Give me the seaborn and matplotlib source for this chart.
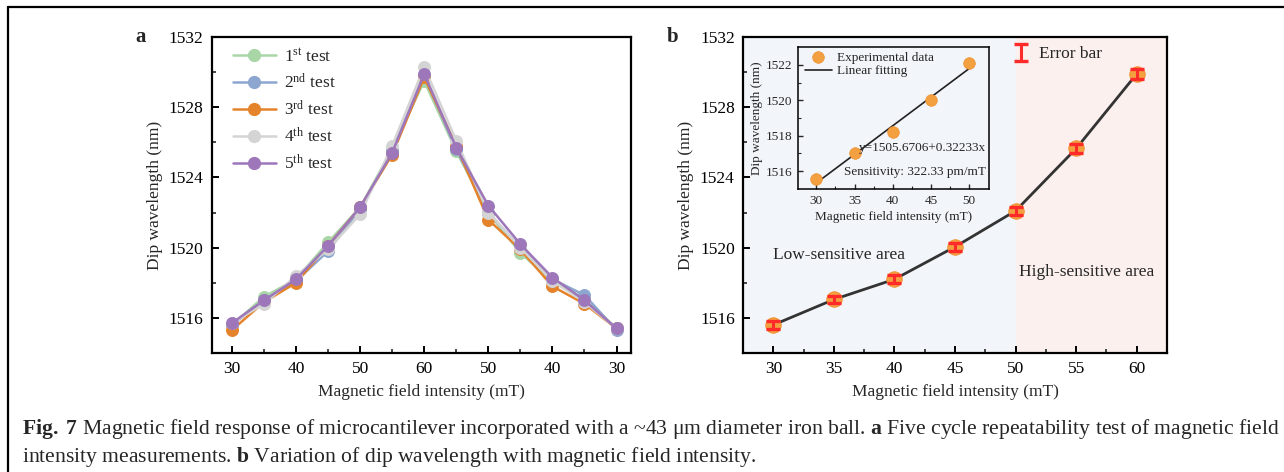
import numpy as np
import pandas as pd
import matplotlib
matplotlib.use("Agg")
import matplotlib.pyplot as plt
from matplotlib.lines import Line2D
import seaborn as sns

# ---- data -------------------------------------------------------------
cycle_fields = [30, 35, 40, 45, 50, 55, 60, 55, 50, 45, 40, 35, 30]
test_names = ["1$^{\\mathrm{st}}$ test", "2$^{\\mathrm{nd}}$ test", "3$^{\\mathrm{rd}}$ test",
              "4$^{\\mathrm{th}}$ test", "5$^{\\mathrm{th}}$ test"]
test1 = [1515.6, 1517.2, 1518.2, 1520.3, 1522.3, 1525.6, 1529.5, 1525.5, 1522.0, 1519.7, 1518.1, 1517.1, 1515.4]
test2 = [1515.6, 1517.0, 1518.1, 1519.8, 1522.2, 1525.5, 1529.8, 1525.6, 1522.0, 1520.0, 1518.2, 1517.3, 1515.3]
test3 = [1515.3, 1516.9, 1518.0, 1520.1, 1522.3, 1525.3, 1529.7, 1525.8, 1521.6, 1519.9, 1517.8, 1516.8, 1515.4]
test4 = [1515.7, 1516.8, 1518.4, 1519.9, 1521.9, 1525.8, 1530.3, 1526.1, 1522.0, 1520.0, 1518.1, 1516.9, 1515.4]
test5 = [1515.7, 1517.0, 1518.2, 1520.1, 1522.3, 1525.4, 1529.9, 1525.7, 1522.4, 1520.2, 1518.3, 1517.0, 1515.4]
test_colors = ["#A9D6A6", "#8CA6D0", "#E5832B", "#D4D4D4", "#9D77BA"]

field = [30, 35, 40, 45, 50, 55, 60]
dip = [1515.6, 1517.05, 1518.2, 1520.05, 1522.1, 1525.65, 1529.9]
dip_err = [0.22, 0.22, 0.22, 0.22, 0.22, 0.27, 0.27]

fit_field = [30, 35, 40, 45, 50]
fit_dip = [1515.55, 1517.0, 1518.2, 1520.0, 1522.1]
fit_intercept = 1505.6706
fit_slope = 0.32233

caption_1 = (r"$\mathbf{Fig.}$ $\mathbf{7}$ Magnetic field response of microcantilever incorporated with a ~43 μm "
             r"diameter iron ball. $\mathbf{a}$ Five cycle repeatability test of magnetic field")
caption_2 = r"intensity measurements. $\mathbf{b}$ Variation of dip wavelength with magnetic field intensity."

# ---- style ------------------------------------------------------------
sns.set_theme(style="ticks")
plt.rcParams["font.family"] = ["Liberation Serif", "DejaVu Serif"]
plt.rcParams["mathtext.fontset"] = "custom"
plt.rcParams["mathtext.rm"] = "Liberation Serif"
plt.rcParams["mathtext.it"] = "Liberation Serif:italic"
plt.rcParams["mathtext.bf"] = "Liberation Serif:bold"
plt.rcParams["axes.linewidth"] = 1.6
plt.rcParams["axes.edgecolor"] = "black"

FS = 12.5
fig = plt.figure(figsize=(12.84, 4.72), dpi=100)

# outer frame of the figure block
fig.add_artist(Line2D([0.0063, 0.0063], [0, 0.985], transform=fig.transFigure, color="black", lw=1.6))
fig.add_artist(Line2D([0.0063, 1.0], [0.985, 0.985], transform=fig.transFigure, color="black", lw=1.6))


def style_ticks(ax, size):
    ax.tick_params(axis="both", which="major", direction="in", length=5, width=1.4,
                   labelsize=size, colors="black", pad=6)
    ax.tick_params(axis="both", which="minor", direction="in", length=3, width=1.2)
    for s in ax.spines.values():
        s.set_visible(True)
        s.set_color("black")


# ---- panel a: five cycle repeatability ---------------------------------
ax_a = fig.add_axes([0.1651, 0.2521, 0.3263, 0.6695])
rows = []
for name, vals in zip(test_names, [test1, test2, test3, test4, test5]):
    for i, v in enumerate(vals):
        rows.append({"step": i, "dip": v, "test": name})
df_a = pd.DataFrame(rows)
sns.lineplot(data=df_a, x="step", y="dip", hue="test", palette=test_colors,
             marker="o", markersize=8.5, markeredgewidth=0.8, linewidth=1.8,
             dashes=False, ax=ax_a, legend=False)
for line, c in zip(ax_a.get_lines(), test_colors):
    line.set_markeredgecolor(c)
ax_a.set_xlim(-0.62, 12.45)
ax_a.set_ylim(1514, 1532)
ax_a.set_xticks(range(0, 13, 2))
ax_a.set_xticklabels([str(cycle_fields[i]) for i in range(0, 13, 2)])
ax_a.set_xticks(range(1, 13, 2), minor=True)
ax_a.set_yticks([1516, 1520, 1524, 1528, 1532])
ax_a.set_yticks([1518, 1522, 1526, 1530], minor=True)
ax_a.set_xlabel("Magnetic field intensity (mT)", fontsize=FS, labelpad=5)
ax_a.set_ylabel("Dip wavelength (nm)", fontsize=FS, labelpad=4)
style_ticks(ax_a, FS)
handles_a = [Line2D([], [], color=c, marker="o", markersize=8.5, lw=1.8,
                    markeredgecolor=c) for c in test_colors]
ax_a.legend(handles_a, test_names, loc="upper left", frameon=False, fontsize=FS,
            handlelength=2.5, labelspacing=0.45, borderaxespad=0.3, handletextpad=0.45,
            bbox_to_anchor=(0.02, 1.005))
fig.text(0.1095, 0.921, "a", fontsize=15, fontweight="bold", ha="center", va="center")

# ---- panel b: dip wavelength vs field ----------------------------------
ax_b = fig.add_axes([0.5787, 0.2521, 0.3302, 0.6695])
ax_b.axvspan(27.5, 50, color="#F2F5F9", zorder=0, lw=0)
ax_b.axvspan(50, 62.5, color="#FBF0EE", zorder=0, lw=0)
df_b = pd.DataFrame({"field": field, "dip": dip})
sns.lineplot(data=df_b, x="field", y="dip", color="#333333", linewidth=2.0, ax=ax_b, zorder=2)
sns.scatterplot(data=df_b, x="field", y="dip", color="#F3A040", s=125, edgecolor="#F09030",
                linewidth=0.6, ax=ax_b, zorder=3)
err = ax_b.errorbar(field, dip, yerr=dip_err, fmt="none", ecolor="#FF2A2A", elinewidth=2.2,
                    capsize=4.8, capthick=2.4, zorder=4, label="Error bar")
ax_b.set_xlim(27.5, 62.5)
ax_b.set_ylim(1514, 1532)
ax_b.set_xticks(field)
ax_b.set_xticks([32.5, 37.5, 42.5, 47.5, 52.5, 57.5], minor=True)
ax_b.set_yticks([1516, 1520, 1524, 1528, 1532])
ax_b.set_yticks([1518, 1522, 1526, 1530], minor=True)
ax_b.set_xlabel("Magnetic field intensity (mT)", fontsize=FS, labelpad=5)
ax_b.set_ylabel("Dip wavelength (nm)", fontsize=FS, labelpad=4)
style_ticks(ax_b, FS)
ax_b.legend([err], ["Error bar"], loc="upper left", bbox_to_anchor=(0.6, 1.02), frameon=False,
            fontsize=FS, handlelength=0.9, handletextpad=0.6)
ax_b.text(30.0, 1519.6, "Low-sensitive area", fontsize=FS, ha="left", va="center")
ax_b.text(50.3, 1518.6, "High-sensitive area", fontsize=FS, ha="left", va="center")
fig.text(0.5235, 0.921, "b", fontsize=15, fontweight="bold", ha="center", va="center")

# ---- inset: linear fit over the low-sensitive range --------------------
ax_in = fig.add_axes([0.6215, 0.5996, 0.1488, 0.3008])
ax_in.patch.set_alpha(0)
fit_x = np.array([fit_field[0], fit_field[-1]])
sns.lineplot(x=fit_x, y=fit_intercept + fit_slope * fit_x, color="#222222", linewidth=1.2,
             ax=ax_in, label="Linear fitting")
sns.scatterplot(x=fit_field, y=fit_dip, color="#F3A040", s=70, edgecolor="#F09030",
                linewidth=0.5, ax=ax_in, label="Experimental data", zorder=3)
ax_in.set_xlim(27.6, 52.6)
ax_in.set_ylim(1515, 1523)
ax_in.set_xticks(fit_field)
ax_in.set_xticks([32.5, 37.5, 42.5, 47.5], minor=True)
ax_in.set_yticks([1516, 1518, 1520, 1522])
ax_in.set_yticks([1517, 1519, 1521], minor=True)
ax_in.set_xlabel("Magnetic field intensity (mT)", fontsize=9.5, labelpad=3)
ax_in.set_ylabel("Dip wavelength (nm)", fontsize=9.5, labelpad=2)
ax_in.tick_params(axis="both", which="major", direction="in", length=3.5, width=1.0,
                  labelsize=9.5, pad=4)
ax_in.tick_params(axis="both", which="minor", direction="in", length=2, width=0.8)
for s in ax_in.spines.values():
    s.set_linewidth(1.1)
h, l = ax_in.get_legend_handles_labels()
ax_in.legend([h[1], h[0]], [l[1], l[0]], loc="upper left", frameon=False, fontsize=9.5,
             handlelength=2.0, labelspacing=0.1, borderaxespad=0.15, handletextpad=0.4,
             bbox_to_anchor=(0.0, 1.02))
ax_in.text(0.985, 0.29, "y=1505.6706+0.32233x", transform=ax_in.transAxes, fontsize=9.5,
           ha="right", va="center")
ax_in.text(0.985, 0.12, "Sensitivity: 322.33 pm/mT", transform=ax_in.transAxes, fontsize=9.5,
           ha="right", va="center")

# ---- caption -----------------------------------------------------------
fig.text(0.0175, 0.091, caption_1, fontsize=15.6, ha="left", va="center")
fig.text(0.0175, 0.032, caption_2, fontsize=15.6, ha="left", va="center")

fig.savefig("out.png", dpi=100, facecolor="white")
